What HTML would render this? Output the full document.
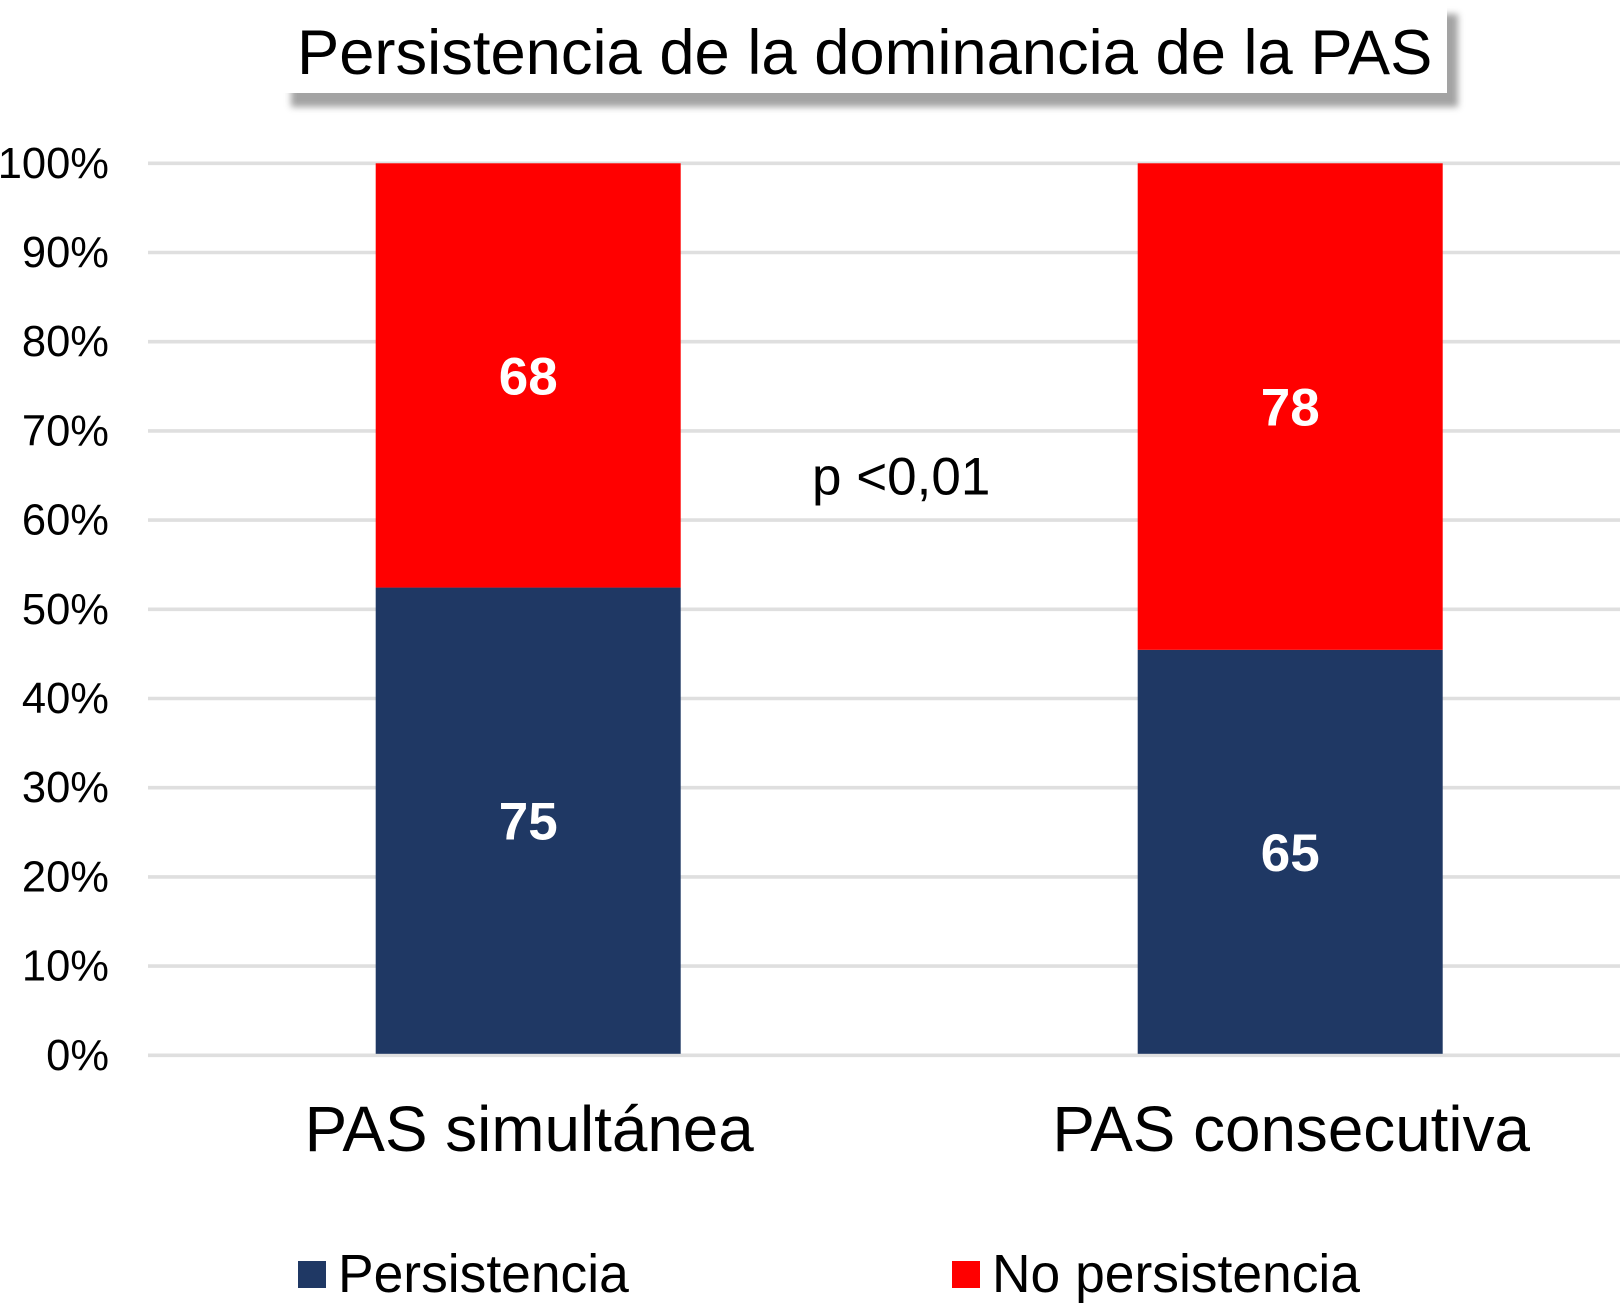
<!DOCTYPE html>
<html lang="es">
<head>
<meta charset="utf-8">
<title>Persistencia de la dominancia de la PAS</title>
<style>
html,body{margin:0;padding:0;background:#fff;}
body{width:1624px;height:1307px;overflow:hidden;}
svg{display:block;font-family:"Liberation Sans",Arial,sans-serif;}
</style>
</head>
<body>
<svg id="chart" xmlns="http://www.w3.org/2000/svg" width="1624" height="1307" viewBox="0 0 1624 1307">
  <defs>
    <filter id="soft-shadow" x="-5%" y="-30%" width="110%" height="160%">
      <feGaussianBlur stdDeviation="3.5"/>
    </filter>
  </defs>
  <rect x="0" y="0" width="1624" height="1307" fill="#ffffff"/>
  <g>
    <rect x="291" y="14" width="1167" height="93" fill="#000" fill-opacity="0.36" filter="url(#soft-shadow)"/>
    <rect x="282" y="3" width="1165" height="90" fill="#ffffff"/>
    <text x="297" y="74" font-size="63.3" fill="#000">Persistencia de la dominancia de la PAS</text>
  </g>
  <g id="gridlines"></g>
  <g id="y-axis"></g>
  <g id="bars"></g>
  <g id="x-axis"></g>
  <text x="812" y="494.5" font-size="53" fill="#000">p &lt;0,01</text>
  <g id="legend"></g>
</svg>
<script>
const categories = ["PAS simultánea", "PAS consecutiva"];
const persistencia = [75, 65];
const noPersistencia = [68, 78];
const seriesNames = ["Persistencia", "No persistencia"];
const yTicks = [0, 10, 20, 30, 40, 50, 60, 70, 80, 90, 100];

const NS = "http://www.w3.org/2000/svg";
const plot = { left: 148, right: 1620, top: 163.3, bottom: 1055.3 };
const barWidth = 305;
const barBaseInset = 1.5;
const navy = "#1f3864";
const red = "#ff0000";

function yScale(pct) {
  return plot.bottom - (pct / 100) * (plot.bottom - plot.top);
}
function xCenter(i) {
  const firstCenter = 528.2;
  const step = 762;
  return firstCenter + i * step;
}
function make(tag, attrs, parent, text) {
  const el = document.createElementNS(NS, tag);
  for (const k in attrs) el.setAttribute(k, attrs[k]);
  if (text !== undefined) el.textContent = text;
  parent.appendChild(el);
  return el;
}

const gridG = document.getElementById("gridlines");
const yAxisG = document.getElementById("y-axis");
yTicks.forEach(function (t) {
  const line = make("line", { x1: plot.left, x2: plot.right, y1: yScale(t), y2: yScale(t), stroke: "#dfdfdf", "stroke-width": 3.6 }, gridG);
  
  
  const label = make("text", { x: 109, y: yScale(t) + 14.5, "text-anchor": "end", "font-size": 43.5, fill: "#000" }, yAxisG, t + "%");
  
  
});

const barsG = document.getElementById("bars");
categories.forEach(function (cat, i) {
  const total = persistencia[i] + noPersistencia[i];
  const pPct = persistencia[i] / total * 100;
  const cx = xCenter(i);
  const x = cx - barWidth / 2;
  const base = yScale(0) - barBaseInset;
  const split = base - (pPct / 100) * (base - yScale(100)) + 0.8;
  const top = yScale(100);

  const lower = make("rect", { x: x, y: split, width: barWidth, height: base - split, fill: navy }, barsG);
  
  
  const upper = make("rect", { x: x, y: top, width: barWidth, height: split - top, fill: red }, barsG);
  
  

  const lowerLabel = make("text", { x: cx, y: (split + base) / 2 + 19, "text-anchor": "middle", "font-size": 53, "font-weight": "bold", fill: "#fff" }, barsG, persistencia[i]);
  
  
  const upperLabel = make("text", { x: cx, y: (top + split) / 2 + 19, "text-anchor": "middle", "font-size": 53, "font-weight": "bold", fill: "#fff" }, barsG, noPersistencia[i]);
  
  
});

const xAxisG = document.getElementById("x-axis");
categories.forEach(function (cat, i) {
  const label = make("text", { x: xCenter(i) + 1, y: 1151, "text-anchor": "middle", "font-size": 63.8, fill: "#000" }, xAxisG, cat);
  
  
});

const legendG = document.getElementById("legend");
const legendSwatchX = [298, 952];
const legendColors = [navy, red];
seriesNames.forEach(function (name, i) {
  const swatch = make("rect", { x: legendSwatchX[i], y: 1261, width: 28, height: 27, fill: legendColors[i] }, legendG);
  
  
  const label = make("text", { x: legendSwatchX[i] + 40, y: 1292, "font-size": 53.4, fill: "#000" }, legendG, name);
  
  
});
</script>
</body>
</html>
